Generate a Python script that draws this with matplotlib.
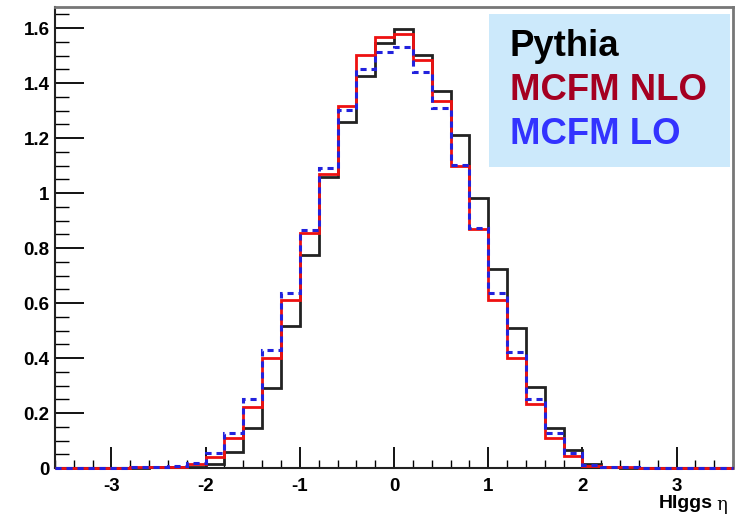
import numpy as np
import matplotlib
matplotlib.use("Agg")
import matplotlib.pyplot as plt
from matplotlib.ticker import MultipleLocator, FixedLocator
from matplotlib.patches import Rectangle

# bin edges: -3.6 .. 3.6, width 0.2
edges = np.round(np.arange(-3.6, 3.6001, 0.2), 2)

pythia = [0.001, 0.001, 0.001, 0.001, 0.001, 0.002, 0.003, 0.005,
          0.013, 0.060, 0.144, 0.292, 0.516, 0.775, 1.059, 1.257, 1.425,
          1.547, 1.596, 1.504, 1.372, 1.213, 0.981, 0.724, 0.508, 0.293,
          0.144, 0.065, 0.014, 0.002, 0.001, 0.001, 0.001, 0.001, 0.001, 0.001]
mcfm_nlo = [0.001, 0.001, 0.001, 0.001, 0.002, 0.003, 0.005, 0.015,
            0.041, 0.110, 0.223, 0.402, 0.611, 0.856, 1.069, 1.316, 1.504,
            1.569, 1.580, 1.484, 1.335, 1.099, 0.870, 0.611, 0.399, 0.233,
            0.110, 0.044, 0.009, 0.003, 0.002, 0.001, 0.001, 0.001, 0.001, 0.001]
mcfm_lo = [0.001, 0.001, 0.001, 0.001, 0.002, 0.003, 0.006, 0.020,
           0.054, 0.128, 0.251, 0.429, 0.637, 0.866, 1.093, 1.304, 1.450,
           1.514, 1.532, 1.441, 1.311, 1.102, 0.873, 0.635, 0.423, 0.250,
           0.127, 0.053, 0.010, 0.003, 0.002, 0.001, 0.001, 0.001, 0.001, 0.001]

legend_labels = ["Pythia", "MCFM NLO", "MCFM LO"]
legend_colors = ["#000000", "#a50021", "#3333ff"]
xticks = [-3, -2, -1, 0, 1, 2, 3]
yticks = [0, 0.2, 0.4, 0.6, 0.8, 1.0, 1.2, 1.4, 1.6]
ytick_labels = ["0", "0.2", "0.4", "0.6", "0.8", "1", "1.2", "1.4", "1.6"]

plt.rcParams['font.family'] = ['Liberation Sans', 'DejaVu Sans']

fig = plt.figure(figsize=(7.36, 5.18), dpi=100)
ax = fig.add_axes([0.0747, 0.0965, 0.9213, 0.89])

ax.stairs(pythia, edges, color="#222222", lw=2.0, baseline=None, zorder=3,
          clip_on=False)
ax.stairs(mcfm_nlo, edges, color="#ee1111", lw=2.0, baseline=None, zorder=3.1,
          clip_on=False)
ax.stairs(mcfm_lo, edges, color="#2222dd", lw=2.2, baseline=None, zorder=3.2,
          linestyle=(0, (2.0, 1.6)), clip_on=False)

ax.set_xlim(-3.6, 3.6)
ax.set_ylim(0, 1.677)

ax.xaxis.set_major_locator(FixedLocator(xticks))
ax.xaxis.set_minor_locator(MultipleLocator(0.2))
ax.yaxis.set_major_locator(FixedLocator(yticks))
ax.yaxis.set_minor_locator(MultipleLocator(0.05))
ax.set_xticklabels([str(t) for t in xticks], fontsize=13.5, fontweight='bold')
ax.set_yticklabels(ytick_labels, fontsize=13.5, fontweight='bold')

ax.tick_params(axis='x', which='major', direction='in', length=15, width=1.3,
               pad=7, top=False)
ax.tick_params(axis='x', which='minor', direction='in', length=6, width=1.0,
               top=False)
ax.tick_params(axis='y', which='major', direction='in', length=21, width=1.3,
               pad=4, right=False)
ax.tick_params(axis='y', which='minor', direction='in', length=10, width=1.0,
               right=False)

for s in ['left', 'bottom']:
    ax.spines[s].set_color('#222222')
    ax.spines[s].set_linewidth(1.5)
for s in ['top', 'right']:
    ax.spines[s].set_color('#777777')
    ax.spines[s].set_linewidth(2.0)

# x label
fig.text(713 / 736, 1 - 503 / 518, "HIggs", ha='right', va='center',
         fontsize=14, fontweight='bold')
fig.text(716 / 736, 1 - 505 / 518, "η", ha='left', va='center',
         fontsize=13, family=['DejaVu Serif'])

# legend box
fig.patches.append(Rectangle((489 / 736, 1 - 167 / 518), (730 - 489) / 736,
                             (167 - 14) / 518, transform=fig.transFigure,
                             facecolor="#cce9fb", edgecolor='none', zorder=5))
ys = [47, 91, 135]
for lab, col, y in zip(legend_labels, legend_colors, ys):
    fig.text(510 / 736, 1 - y / 518, lab, color=col, fontsize=26.3,
             fontweight='bold', ha='left', va='center', zorder=6)

fig.savefig("out.png", dpi=100)
